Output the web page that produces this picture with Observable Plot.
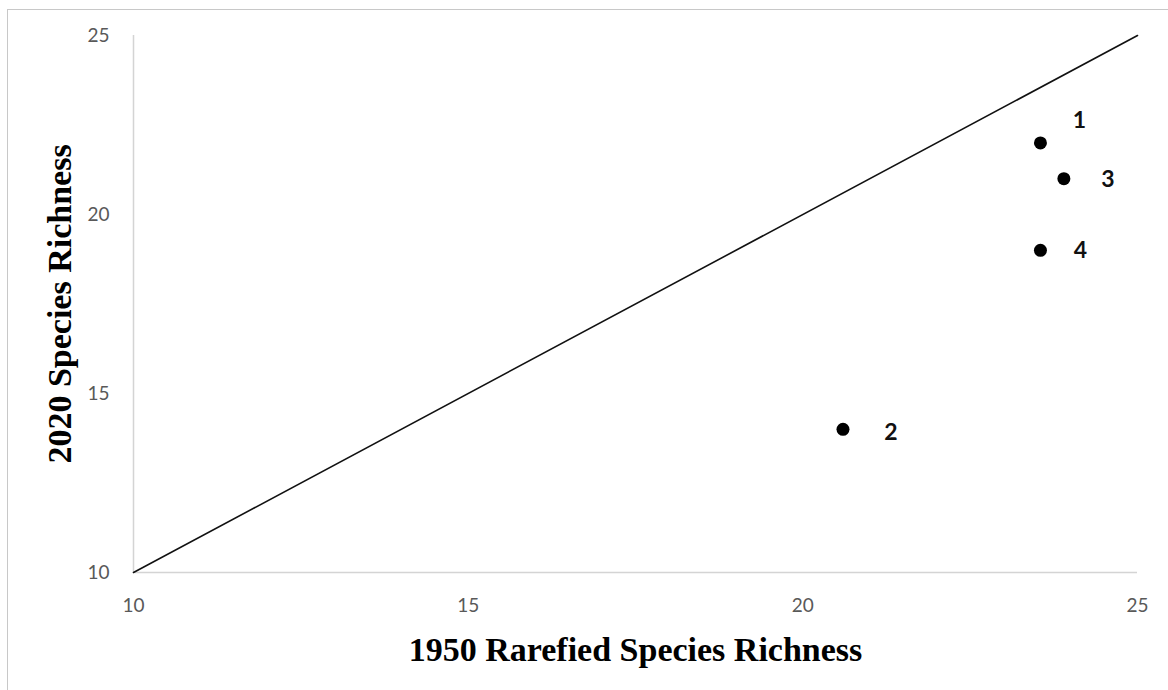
<!DOCTYPE html>
<html>
<head>
<meta charset="utf-8">
<script src="https://cdn.jsdelivr.net/npm/d3@7"></script>
<script src="https://cdn.jsdelivr.net/npm/@observablehq/plot@0.6"></script>
<style>
  html, body { margin: 0; padding: 0; background: #fff; overflow: hidden; }
  #wrap { position: relative; width: 1168px; height: 690px; }
  #frame { position: absolute; left: 7px; top: 9px; width: 1200px; height: 720px; border: 1.5px solid #c8c8c8; box-sizing: border-box; }
  #chart { position: absolute; left: 0; top: 0; }
</style>
</head>
<body>
<div id="wrap"><div id="frame"></div><div id="chart"></div></div>
<script>
const sites = ["1", "2", "3", "4"];
const richness1950 = [23.55, 20.6, 23.9, 23.55];
const richness2020 = [22, 14, 21, 19];
const ticks = [10, 15, 20, 25];
const lineEnds = [10, 25];

const pts = sites.map((s, i) => ({site: s, x: richness1950[i], y: richness2020[i]}));
const diag = lineEnds.map(v => ({x: v, y: v}));

const gray = "#595959";
const axisGray = "#d4d4d4";
const labelStyle = {x: "x", y: "y", text: "site", fontSize: 23, fontWeight: "bold", fontFamily: "Lato", fill: "#111"};

const chart = Plot.plot({
  width: 1168,
  height: 690,
  marginLeft: 133,
  marginRight: 31,
  marginTop: 35,
  marginBottom: 118,
  style: {background: "transparent", overflow: "visible"},
  x: {domain: [10, 25], ticks: ticks, label: null},
  y: {domain: [10, 25], ticks: ticks, label: null},
  marks: [
    Plot.ruleX([10], {stroke: axisGray, strokeWidth: 1.5}),
    Plot.ruleY([10], {stroke: axisGray, strokeWidth: 1.5}),
    Plot.axisX({ticks: ticks, tickSize: 0, tickPadding: 26, fill: gray, fontSize: 19, fontFamily: "Lato", label: null}),
    Plot.axisY({ticks: ticks, tickSize: 0, tickPadding: 24, fill: gray, fontSize: 19, fontFamily: "Lato", label: null}),
    Plot.line(diag, {x: "x", y: "y", stroke: "#111", strokeWidth: 1.6}),
    Plot.dot(pts, {x: "x", y: "y", r: 6.5, fill: "#000", stroke: "none"}),
    Plot.text(pts.filter(d => d.site === "1"), {...labelStyle, dx: 39, dy: -22}),
    Plot.text(pts.filter(d => d.site === "2"), {...labelStyle, dx: 48, dy: 3}),
    Plot.text(pts.filter(d => d.site === "3"), {...labelStyle, dx: 44, dy: 1}),
    Plot.text(pts.filter(d => d.site === "4"), {...labelStyle, dx: 40, dy: 0}),
    Plot.text(["1950 Rarefied Species Richness"], {frameAnchor: "bottom", dy: 88, text: d => d, fontSize: 34, fontWeight: "bold", fontFamily: "Liberation Serif", fill: "#000"}),
    Plot.text(["2020 Species Richness"], {frameAnchor: "left", dx: -73, rotate: -90, textAnchor: "middle", text: d => d, fontSize: 34, fontWeight: "bold", fontFamily: "Liberation Serif", fill: "#000"})
  ]
});
document.getElementById("chart").appendChild(chart);
</script>
</body>
</html>
